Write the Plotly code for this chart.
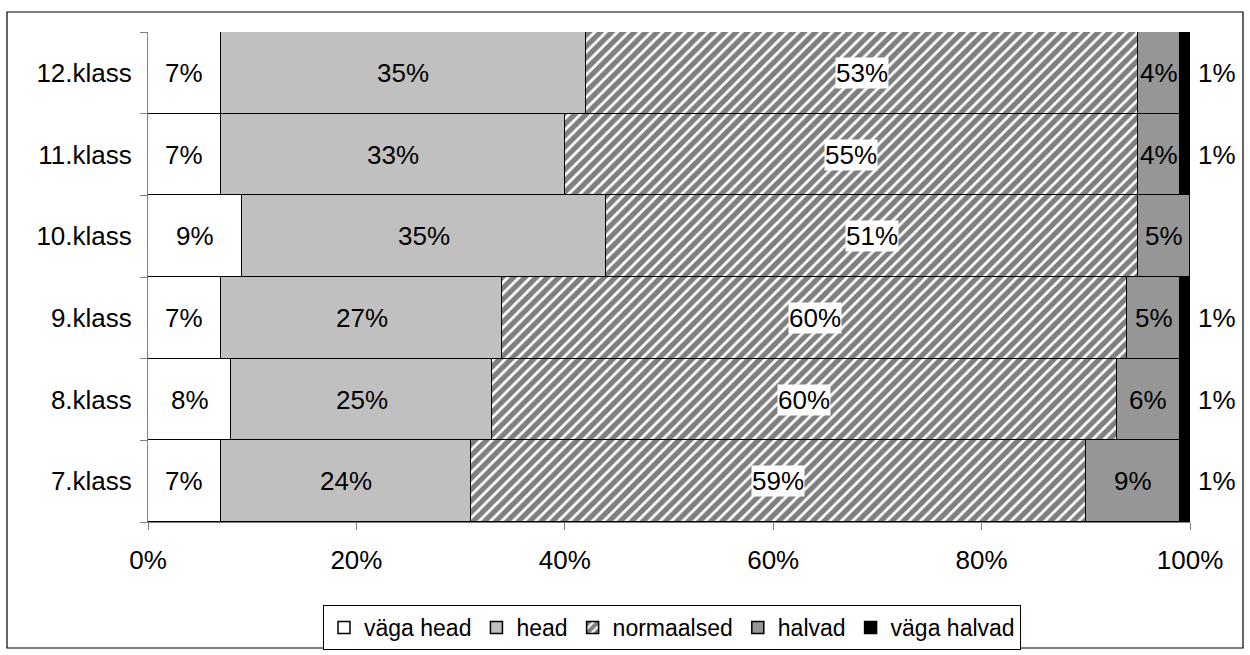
import plotly.graph_objects as go

categories = ["7.klass", "8.klass", "9.klass", "10.klass", "11.klass", "12.klass"]
series_names = ["väga head", "head", "normaalsed", "halvad", "väga halvad"]
vaga_head = [7, 8, 7, 9, 7, 7]
head = [24, 25, 27, 35, 33, 35]
normaalsed = [59, 60, 60, 51, 55, 53]
halvad = [9, 6, 5, 5, 4, 4]
vaga_halvad = [1, 1, 1, 0, 1, 1]
x_ticks = [0, 20, 40, 60, 80, 100]
x_tick_labels = ["0%", "20%", "40%", "60%", "80%", "100%"]

FONT = "Liberation Sans, Arial, sans-serif"
FS = 26
series = [vaga_head, head, normaalsed, halvad, vaga_halvad]
colors = ["white", "#C0C0C0", "white", "#969696", "black"]

fig = go.Figure()
for i, (name, vals) in enumerate(zip(series_names, series)):
    marker = dict(color=colors[i], line=dict(color="black", width=1.5))
    if name == "normaalsed":
        marker["pattern"] = dict(shape="/", fgcolor="black", bgcolor="white",
                                 size=8, solidity=0.66)
    fig.add_trace(go.Bar(y=categories, x=vals, name=name, orientation="h",
                         marker=marker, hoverinfo="x+name"))

annotations = []
for ci, cat in enumerate(categories):
    start = 0
    for si, vals in enumerate(series):
        v = vals[ci]
        if v > 0:
            if si == 4:
                annotations.append(dict(x=100, y=cat, xref="x", yref="y",
                                        text=f"{v}%", showarrow=False,
                                        xanchor="left", xshift=6,
                                        font=dict(family=FONT, size=FS, color="black")))
            else:
                a = dict(x=start + v / 2, y=cat, xref="x", yref="y",
                         text=f"{v}%", showarrow=False,
                         font=dict(family=FONT, size=FS, color="black"))
                if si == 2:
                    a.update(bgcolor="white", borderpad=0)
                annotations.append(a)
        start += v

W, H = 1250, 655
L, T = 148, 32
R = W - 1190
B = H - 522
pw, ph = W - L - R, H - T - B
shapes = [dict(type="rect", xref="paper", yref="paper",
               x0=(7 - L) / pw, x1=(1243 - L) / pw,
               y0=(H - B - 648) / ph, y1=(H - B - 12) / ph,
               line=dict(color="black", width=1.2), fillcolor="rgba(0,0,0,0)",
               layer="below")]

fig.update_layout(
    barmode="stack", bargap=0,
    width=W, height=H,
    margin=dict(l=L, r=R, t=T, b=B, autoexpand=False),
    paper_bgcolor="white", plot_bgcolor="white",
    font=dict(family=FONT, size=FS, color="black"),
    xaxis=dict(range=[0, 100], tickvals=x_ticks, ticktext=x_tick_labels,
               showgrid=False, zeroline=False, showline=True, linecolor="#808080",
               linewidth=1, ticks="outside", ticklen=7, tickcolor="#808080",
               ticklabelstandoff=8,
               tickfont=dict(family=FONT, size=FS, color="black")),
    yaxis=dict(range=[-0.5, 5.5], showgrid=False, zeroline=False, showline=True,
               linecolor="#808080", linewidth=1, ticks="outside", ticklen=7,
               tickcolor="#808080", tickson="boundaries", ticklabelstandoff=10,
               tickfont=dict(family=FONT, size=FS, color="black")),
    legend=dict(orientation="h", x=(672 - L) / pw, xanchor="center",
                y=(H - B - 605) / ph, yanchor="top",
                bordercolor="black", borderwidth=1, bgcolor="white",
                font=dict(family=FONT, size=23, color="black"),
                traceorder="normal", itemwidth=30, tracegroupgap=0),
    annotations=annotations,
    shapes=shapes,
    showlegend=True,
)

fig.write_html("out.html", config={"displayModeBar": False},
               post_script="document.body.style.margin='0';"
                           "document.body.style.overflow='hidden';")
